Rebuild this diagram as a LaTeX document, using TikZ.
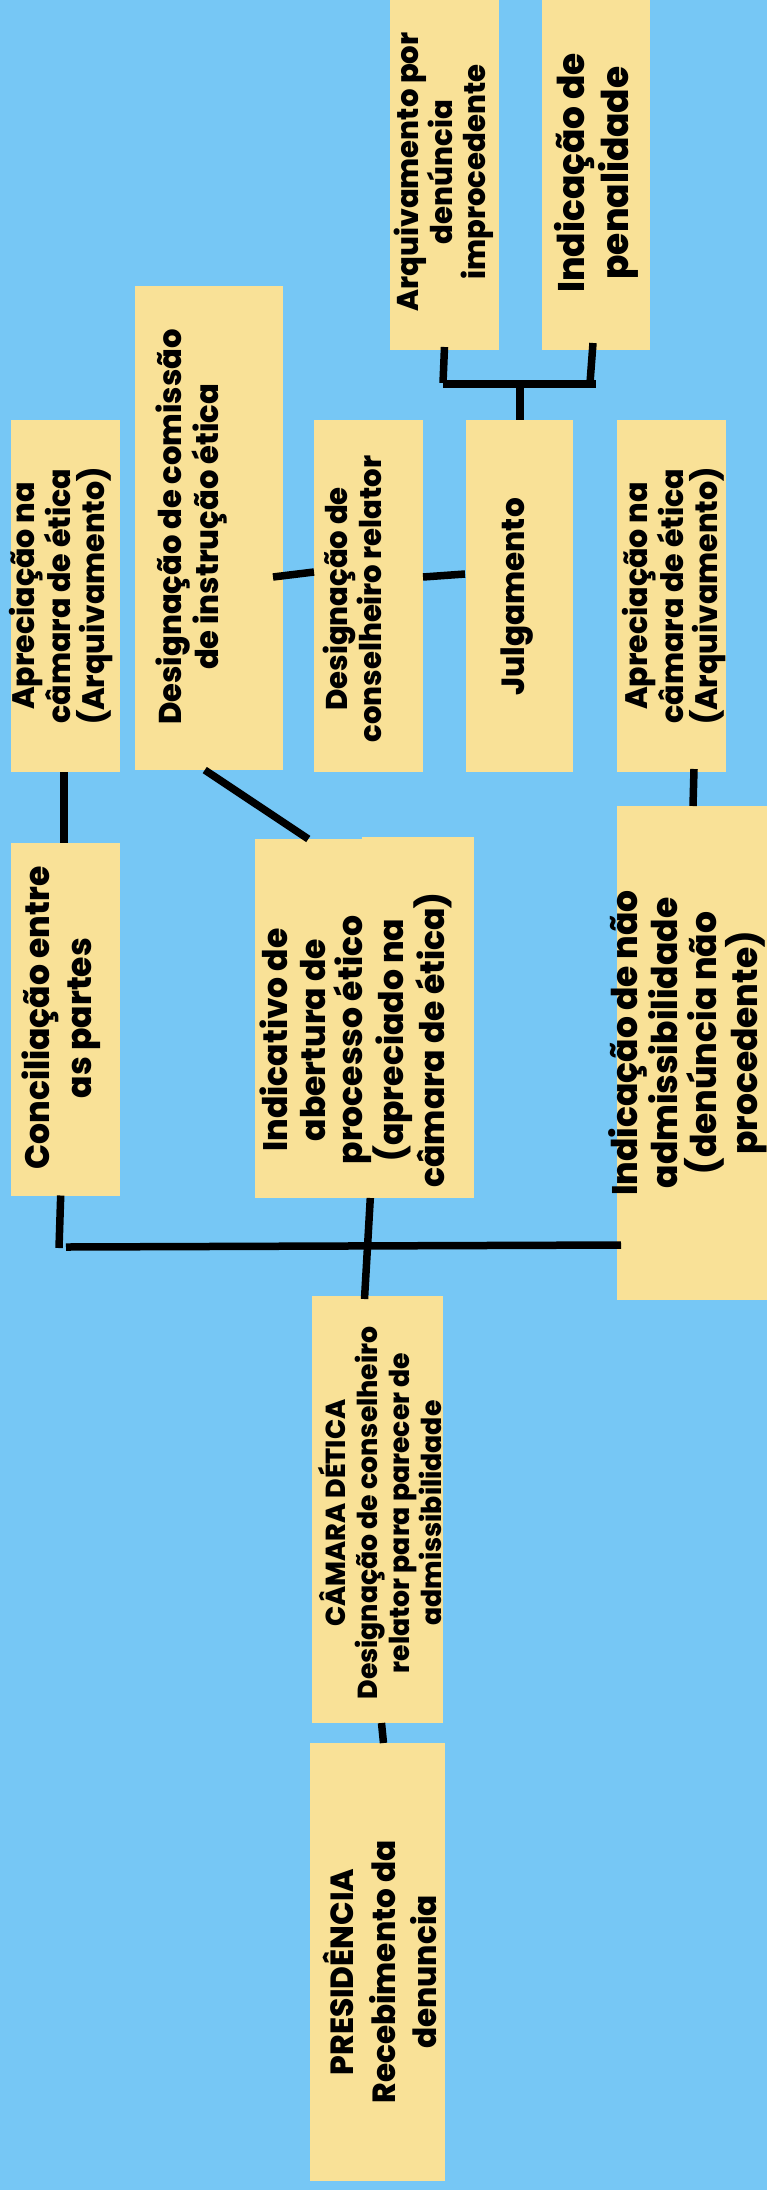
\documentclass[tikz,border=0pt]{standalone}
\usepackage{fontspec}
\setmainfont{Poppins}[BoldFont={Poppins ExtraBold}, FakeStretch=0.97]
\usetikzlibrary{calc}
\definecolor{bg}{RGB}{118,199,245}
\definecolor{boxc}{RGB}{249,225,151}
\tikzset{
  box/.style={fill=boxc, draw=none, inner sep=0pt, outer sep=0pt},
  conn/.style={draw=black, line width=7.5pt},
  txt/.style={rotate=90, align=center, inner sep=0pt, text=black},
}
\newcommand{\fs}[2]{\bfseries\fontsize{#1}{#2}\selectfont}
\begin{document}
\begin{tikzpicture}[x=1pt,y=-1pt]
\path[use as bounding box, fill=bg] (0,0) rectangle (767,2190);
\clip (0,0) rectangle (767,2190);

% boxes
\node[box, minimum width=108.5, minimum height=360] (arq) at (444.25,170) {};
\node[box, minimum width=108, minimum height=360] (pen) at (596,170) {};
\node[box, minimum width=148.5, minimum height=484] (com) at (208.75,528) {};
\node[box, minimum width=109, minimum height=352] (apl) at (65.5,596) {};
\node[box, minimum width=109, minimum height=352] (rel) at (368.5,596) {};
\node[box, minimum width=107, minimum height=352] (jul) at (519.5,596) {};
\node[box, minimum width=108.5, minimum height=352] (apr) at (671.25,596) {};
\node[box, minimum width=109, minimum height=352.5] (con) at (65.5,1019.25) {};
\node[box, minimum width=218.6, minimum height=359] (ind) at (364.3,1018.5) {};
\fill[boxc] (362,836.5) rectangle (473.6,840);
\node[box, minimum width=158, minimum height=494] (nad) at (696,1053) {};
\node[box, minimum width=131, minimum height=427] (cam) at (377.5,1509.5) {};
\node[box, minimum width=135, minimum height=438] (pre) at (377.5,1962) {};

% labels
\node[txt, font=\fs{30}{33}] (tarq) at (444,172) {Arquivamento por\\denúncia\\improcedente};
\node[txt, font=\fs{37}{44}] (tpen) at (596,173) {Indicação de\\penalidade};
\node[txt, font=\fs{31.5}{37}] (tcom) at (191,527) {Designação de comissão\\de instrução ética};
\node[txt, font=\fs{31}{34}] (tapl) at (61,596) {Apreciação na\\câmara de ética\\(Arquivamento)};
\node[txt, font=\fs{30}{34}] (trel) at (352,599) {Designação de\\conselheiro relator};
\node[txt, font=\fs{32}{34}] (tjul) at (517.5,597) {Julgamento};
\node[txt, font=\fs{31}{34}] (tapr) at (674,596) {Apreciação na\\câmara de ética\\(Arquivamento)};
\node[txt, font=\fs{34}{42}] (tcon) at (61,1018) {Conciliação entre\\as partes};
\node[txt, font=\fs{34}{37.7}] (tind) at (356,1040) {Indicativo de\\abertura de\\processo ético\\(apreciado na\\câmara de ética)};
\node[txt, font=\fs{35.5}{39.5}] (tnad) at (688,1043) {Indicação de não\\admissibilidade\\(denúncia não\\procedente)};
\node[txt, font=\fs{27.5}{31.7}] (tcam) at (380,1513) {CÂMARA DÉTICA\\Designação de conselheiro\\relator para parecer de\\admissibilidade};
\node[txt, font=\fs{32}{41.6}] (tpre) at (380,1972) {PRESIDÊNCIA\\Recebimento da\\denuncia};

% junction coordinates
\coordinate (b1) at (443,384);
\coordinate (b2) at (596,384);
\coordinate (b3) at (520,384);
\coordinate (h0) at (59,1248);
\coordinate (h1) at (66,1247);

% connectors
\draw[conn] ($(arq.south)+(0.25,-3)$) -- ($(b1)+(0,-1)$);
\draw[conn] ($(pen.south)+(-3,-7)$) -- ($(b2)+(-6,-1)$);
\draw[conn] (b1) -- (b2);
\draw[conn] (b3) -- ($(jul.north)+(0.5,0)$);
\draw[conn] ($(com.east)+(-10,49)$) -- ($(rel.west)+(0,-24)$);
\draw[conn] ($(rel.east)+(0,-19)$) -- ($(jul.west)+(-1,-22)$);
\draw[conn] ($(com.south)+(-4,0)$) -- ($(ind.north)+(-56,0)$);
\draw[conn] ($(apl.south)+(-1.5,0)$) -- ($(con.north)+(-1.5,0)$);
\draw[conn] ($(apr.south)+(22.75,-3)$) -- ($(nad.north)+(-3,0)$);
\draw[conn] ($(con.south)+(-4.8,0)$) -- (h0);
\draw[conn] (h1) -- ($(nad.south west)+(4,-55)$);
\draw[conn] ($(ind.south)+(6,0)$) -- ($(cam.north)+(-13,3)$);
\draw[conn] ($(cam.south)+(4,0)$) -- ($(pre.north)+(6,0)$);
\end{tikzpicture}
\end{document}
